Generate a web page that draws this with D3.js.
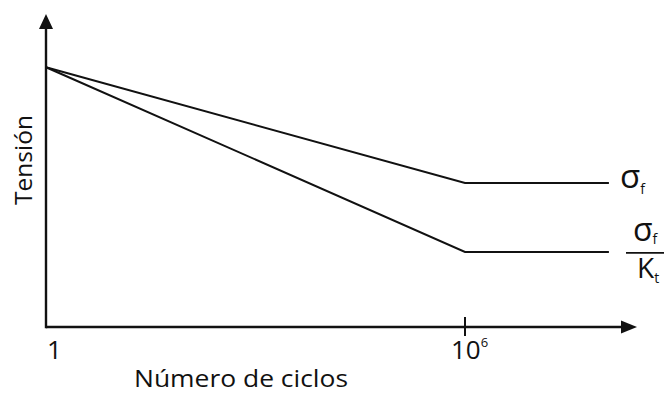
<!DOCTYPE html>
<html>
<head>
<meta charset="utf-8">
<script src="https://cdn.jsdelivr.net/npm/d3@7/dist/d3.min.js"></script>
<style>
  html, body { margin: 0; padding: 0; background: #fff; }
  svg { display: block; }
  text { font-family: "Open Sans", "DejaVu Sans", sans-serif; font-weight: 400; fill: #111; }
</style>
</head>
<body>
<svg id="chart" width="665" height="394"></svg>
<script>
// S-N curves: stress vs. number of cycles (log scale), arbitrary stress units
const cycles = [1, 1e6, 1.15e8];
const smoothStress = [83, 46, 46];      // σf curve
const notchedStress = [83, 24, 24];     // σf / Kt curve
const tickValues = [1, 1e6];
const tickLabels = ["1", "10"];
const tickExponents = ["", "6"];
const xTitle = "Número de ciclos";
const yTitle = "Tensión";

const svg = d3.select("#chart");
const x = d3.scaleLog().domain([1, 1e6]).range([46, 465]);
const y = d3.scaleLinear().domain([0, 100]).range([327, 14]);

const ink = "#111";

// axes with arrowheads
const x0 = x(1), y0 = y(0);
const xEnd = 637, yEnd = 14;
svg.append("line").attr("x1", x0).attr("y1", y0).attr("x2", xEnd - 12).attr("y2", y0)
  .attr("stroke", ink).attr("stroke-width", 2.4);
svg.append("line").attr("x1", x0).attr("y1", y0 + 1.2).attr("x2", x0).attr("y2", yEnd + 12)
  .attr("stroke", ink).attr("stroke-width", 2.4);
svg.append("path").attr("d", `M${xEnd},${y0} L${xEnd - 16},${y0 - 6.5} L${xEnd - 16},${y0 + 6.5} Z`)
  .attr("fill", ink);
svg.append("path").attr("d", `M${x0},${yEnd} L${x0 - 7},${yEnd + 15} L${x0 + 7},${yEnd + 15} Z`)
  .attr("fill", ink);

// tick at 10^6
svg.append("line").attr("x1", x(1e6)).attr("x2", x(1e6)).attr("y1", y0 - 10).attr("y2", y0 + 9)
  .attr("stroke", ink).attr("stroke-width", 2);

// tick labels
const tl = svg.selectAll("text.tick").data(tickValues).join("text")
  .attr("class", "tick")
  .attr("x", (d, i) => i === 0 ? x(d) + 1 : x(d) - 14)
  .attr("y", 359)
  .attr("font-size", 26);
tl.each(function(d, i) {
  const t = d3.select(this);
  t.append("tspan").text(tickLabels[i]);
  if (tickExponents[i]) {
    t.append("tspan").attr("dy", -12).attr("font-size", 13).text(tickExponents[i]);
  }
});

// curves
const line = d3.line().x(d => x(d[0])).y(d => y(d[1]));
[smoothStress, notchedStress].forEach(s => {
  svg.append("path").datum(cycles.map((c, i) => [c, s[i]]))
    .attr("d", line).attr("fill", "none").attr("stroke", ink)
    .attr("stroke-width", 2).attr("stroke-linejoin", "miter");
});

// curve labels
const lab1 = svg.append("text").attr("x", 620).attr("y", y(smoothStress[1]) + 5).attr("font-size", 33);
lab1.append("tspan").text("σ");
lab1.append("tspan").attr("font-size", 14).attr("dy", 6).text("f");

const fy = y(notchedStress[1]);
const num = svg.append("text").attr("x", 633).attr("y", fy - 11).attr("font-size", 32);
num.append("tspan").text("σ");
num.append("tspan").attr("font-size", 14).attr("dy", 3).text("f");
svg.append("line").attr("x1", 626).attr("x2", 664).attr("y1", fy + 1).attr("y2", fy + 1)
  .attr("stroke", ink).attr("stroke-width", 1.8);
const den = svg.append("text").attr("x", 637).attr("y", fy + 26).attr("font-size", 28);
den.append("tspan").text("K");
den.append("tspan").attr("font-size", 14).attr("dy", 5).text("t");

// axis titles
svg.append("text").attr("x", 134).attr("y", 387).attr("font-size", 23)
  .attr("textLength", 214).attr("lengthAdjust", "spacingAndGlyphs").text(xTitle);
svg.append("text").attr("transform", "translate(32,205) rotate(-90)").attr("font-size", 23)
  .attr("textLength", 90).attr("lengthAdjust", "spacingAndGlyphs").text(yTitle);
</script>
</body>
</html>
